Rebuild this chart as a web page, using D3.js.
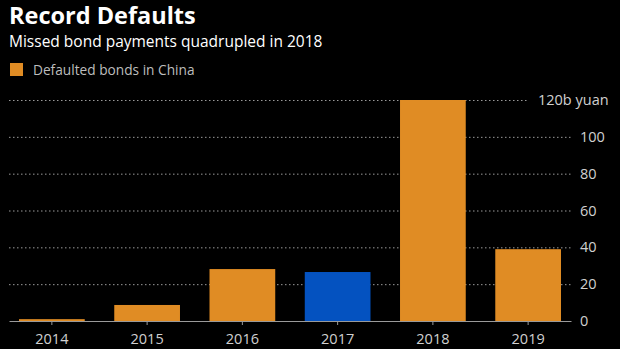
<!DOCTYPE html>
<html>
<head>
<meta charset="utf-8">
<script src="https://cdn.jsdelivr.net/npm/d3@7"></script>
<style>
  body { margin: 0; background: #000; }
  svg { display: block; font-family: "Open Sans", sans-serif; }
</style>
</head>
<body>
<svg id="chart"></svg>
<script>
// Defaulted bonds in China, billions of yuan
const years = ["2014", "2015", "2016", "2017", "2018", "2019"];
const defaults = [1, 8.7, 28.2, 26.6, 120, 39];
const highlightYear = "2017";
const yTicks = [0, 20, 40, 60, 80, 100, 120];

const width = 620;
const height = 349;
const plot = { left: 9, right: 571, top: 100, bottom: 321 };

const svg = d3.select("#chart").attr("width", width).attr("height", height);

svg.append("rect").attr("width", width).attr("height", height).attr("fill", "#000");

// Title block
svg.append("text")
  .attr("x", 9).attr("y", 24)
  .attr("fill", "#fff")
  .attr("font-size", 23.5).attr("font-weight", 700)
  .text("Record Defaults");

svg.append("text")
  .attr("x", 9).attr("y", 47)
  .attr("fill", "#fff")
  .attr("font-size", 15.5)
  .text("Missed bond payments quadrupled in 2018");

// Legend
svg.append("rect")
  .attr("x", 10).attr("y", 63).attr("width", 13).attr("height", 13)
  .attr("fill", "#e08c24");
svg.append("text")
  .attr("x", 33).attr("y", 75)
  .attr("fill", "#bdbdbd")
  .attr("font-size", 13.7)
  .text("Defaulted bonds in China");

// Scales
const x = d3.scaleBand()
  .domain(years)
  .range([plot.left, plot.right])
  .paddingInner(0.31)
  .paddingOuter(0.105);

const y = d3.scaleLinear()
  .domain([0, 120])
  .range([plot.bottom, plot.top]);

// Dotted gridlines
svg.append("g")
  .selectAll("line")
  .data(yTicks.filter((d) => d > 0))
  .enter()
  .append("line")
  .attr("x1", plot.left)
  .attr("x2", (d) => (d === 120 ? 527 : plot.right))
  .attr("y1", (d) => y(d) + 0.5)
  .attr("y2", (d) => y(d) + 0.5)
  .attr("stroke", "#9a9a9a")
  .attr("stroke-width", 1)
  .attr("stroke-dasharray", "1.5,2.5");

// Bars
svg.append("g")
  .selectAll("rect")
  .data(years)
  .enter()
  .append("rect")
  .attr("x", (d) => x(d))
  .attr("y", (d, i) => y(defaults[i]))
  .attr("width", x.bandwidth())
  .attr("height", (d, i) => y(0) - y(defaults[i]))
  .attr("fill", (d) => (d === highlightYear ? "#0452c0" : "#e08c24"));

// Right-hand value axis
const yAxis = svg.append("g")
  .attr("transform", "translate(" + (plot.right + 9) + ",0)")
  .call(
    d3.axisRight(y)
      .tickValues(yTicks)
      .tickSize(0)
      .tickPadding(0)
      .tickFormat((d) => (d === 120 ? "" : d))
  );
yAxis.select(".domain").remove();
yAxis.selectAll("text")
  .attr("fill", "#d0d0d0")
  .attr("font-size", 14.5)
  .attr("font-family", "Open Sans, sans-serif");

svg.append("text")
  .attr("x", 538).attr("y", y(120))
  .attr("dy", "0.32em")
  .attr("fill", "#d0d0d0")
  .attr("font-size", 14.5)
  .text("120b yuan");

// Baseline and year axis
const xAxis = svg.append("g")
  .attr("transform", "translate(0," + plot.bottom + ")")
  .call(d3.axisBottom(x).tickSize(4).tickPadding(9).tickSizeOuter(0));
xAxis.select(".domain").attr("stroke", "#9a9a9a");
xAxis.selectAll(".tick line").attr("stroke", "#9a9a9a");
xAxis.selectAll("text")
  .attr("fill", "#d0d0d0")
  .attr("font-size", 14.5)
  .attr("font-family", "Open Sans, sans-serif");
</script>
</body>
</html>
